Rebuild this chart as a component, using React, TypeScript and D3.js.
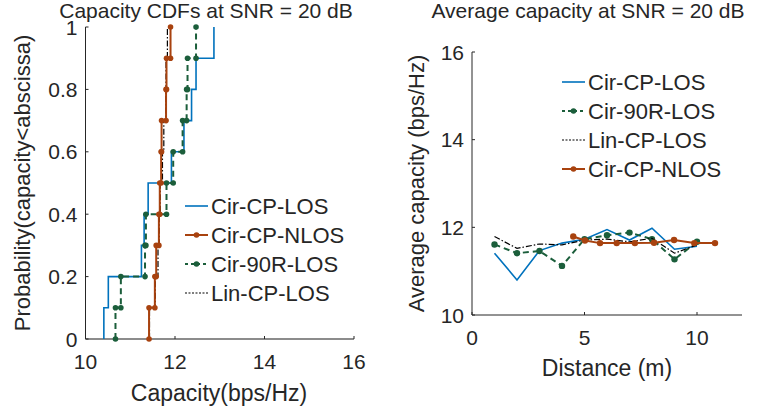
import React from "react";
import * as d3 from "d3";

// ---------- Data ----------
// Left: CDF sample values (capacity, bps/Hz), sorted
const cdfCirCPLOS = [10.41, 10.51, 11.25, 11.31, 11.4, 11.92, 12.2, 12.37, 12.47, 12.87];
const cdfCirCPNLOS = [11.42, 11.55, 11.58, 11.64, 11.66, 11.69, 11.7, 11.8, 11.81, 11.9];
const cdfCir90RLOS = [10.67, 10.79, 11.33, 11.35, 11.81, 11.96, 12.17, 12.26, 12.28, 12.47];
const cdfLinCPLOS = [11.43, 11.56, 11.62, 11.65, 11.67, 11.72, 11.75, 11.79, 11.8, 11.83];

// Right: average capacity vs distance
const distances = [1, 2, 3, 4, 5, 6, 7, 8, 9, 10];
const avgCirCPLOS = [11.41, 10.8, 11.47, 11.64, 11.73, 11.95, 11.71, 11.98, 11.5, 11.57];
const avgCir90RLOS = [11.61, 11.41, 11.46, 11.12, 11.73, 11.82, 11.88, 11.73, 11.27, 11.67];
const avgLinCPLOS = [11.79, 11.52, 11.62, 11.6, 11.71, 11.73, 11.67, 11.75, 11.41, 11.6];
const nlosDistances = [4.5, 5.02, 5.69, 6.43, 7.24, 8.09, 8.98, 9.88, 10.8];
const avgCirCPNLOS = [11.79, 11.7, 11.64, 11.64, 11.64, 11.65, 11.71, 11.64, 11.64];

const leftXTicks = [10, 12, 14, 16];
const leftYTicks = [0, 0.2, 0.4, 0.6, 0.8, 1];
const rightXTicks = [0, 5, 10];
const rightYTicks = [10, 12, 14, 16];

const BLUE = "#0072BD";
const ORANGE = "#A8420F";
const GREEN = "#1B5E3B";
const BLACK = "#000000";
const TXT = "#262626";
const FONT = "'Liberation Sans', Arial, Helvetica, sans-serif";

type Style = { color: string; width: number; dash?: string; marker: boolean };
const S_BLUE: Style = { color: BLUE, width: 1.6, marker: false };
const S_ORANGE: Style = { color: ORANGE, width: 2, marker: true };
const S_GREEN: Style = { color: GREEN, width: 2, dash: "6,4", marker: true };
const S_BLACK: Style = { color: BLACK, width: 1.2, dash: "6,2,1.5,2", marker: false };

function stairVerts(vals: number[]): [number, number][] {
  const n = vals.length;
  const pts: [number, number][] = [];
  vals.forEach((v, i) => {
    pts.push([v, i / n]);
    pts.push([v, (i + 1) / n]);
  });
  return pts;
}

export default function App() {
  // Left axes
  const L = { x0: 85.5, x1: 354, y0: 339, y1: 27 };
  const lx = d3.scaleLinear().domain([10, 16]).range([L.x0, L.x1]);
  const ly = d3.scaleLinear().domain([0, 1]).range([L.y0, L.y1]);
  // Right axes
  const R = { x0: 472, x1: 742, y0: 315, y1: 52 };
  const rx = d3.scaleLinear().domain([0, 12]).range([R.x0, R.x1]);
  const ry = d3.scaleLinear().domain([10, 16]).range([R.y0, R.y1]);

  const lline = d3.line<[number, number]>().x((d) => lx(d[0])).y((d) => ly(d[1]));
  const rline = d3.line<[number, number]>().x((d) => rx(d[0])).y((d) => ry(d[1]));

  const cdfSeries: { vals: number[]; s: Style }[] = [
    { vals: cdfCirCPLOS, s: S_BLUE },
    { vals: cdfCir90RLOS, s: S_GREEN },
    { vals: cdfLinCPLOS, s: S_BLACK },
    { vals: cdfCirCPNLOS, s: S_ORANGE },
  ];

  const avgSeries: { xs: number[]; ys: number[]; s: Style }[] = [
    { xs: distances, ys: avgCirCPLOS, s: S_BLUE },
    { xs: distances, ys: avgCir90RLOS, s: S_GREEN },
    { xs: distances, ys: avgLinCPLOS, s: S_BLACK },
    { xs: nlosDistances, ys: avgCirCPNLOS, s: S_ORANGE },
  ];

  const leftLegend: [string, Style][] = [
    ["Cir-CP-LOS", S_BLUE],
    ["Cir-CP-NLOS", S_ORANGE],
    ["Cir-90R-LOS", S_GREEN],
    ["Lin-CP-LOS", S_BLACK],
  ];
  const rightLegend: [string, Style][] = [
    ["Cir-CP-LOS", S_BLUE],
    ["Cir-90R-LOS", S_GREEN],
    ["Lin-CP-LOS", S_BLACK],
    ["Cir-CP-NLOS", S_ORANGE],
  ];

  const legend = (items: [string, Style][], x: number, y: number, dy: number) =>
    items.map(([name, s], i) => {
      const yy = y + i * dy;
      return (
        <g key={name}>
          <line x1={x} x2={x + 23} y1={yy} y2={yy} stroke={s.color} strokeWidth={s.width}
            strokeDasharray={s.dash ? (s.marker ? "3,3" : "2,1.5") : undefined} />
          {s.marker && <circle cx={x + 11.5} cy={yy} r={2.8} fill={s.color} />}
          <text x={x + 26} y={yy + 8} fontSize={22} fill={TXT}>{name}</text>
        </g>
      );
    });

  return (
    <svg width={776} height={413} style={{ position: "absolute", left: 0, top: 0, background: "#fff" }}
      fontFamily={FONT}>
      <rect width={776} height={413} fill="#fff" />
      {/* ---------- Left plot ---------- */}
      <text x={206} y={18} fontSize={21} textAnchor="middle" fill={TXT}>Capacity CDFs at SNR = 20 dB</text>
      <line x1={L.x0} x2={L.x0} y1={L.y0} y2={L.y1} stroke={TXT} strokeWidth={1} />
      <line x1={L.x0} x2={L.x1} y1={L.y0} y2={L.y0} stroke="#8c8c8c" strokeWidth={2} />
      {leftYTicks.map((t) => (
        <g key={"ly" + t}>
          <line x1={L.x0} x2={L.x0 + 3} y1={ly(t)} y2={ly(t)} stroke={TXT} />
          <text x={L.x0 - 8} y={ly(t) + 7.5} fontSize={21} textAnchor="end" fill={TXT}>{String(t)}</text>
        </g>
      ))}
      {leftXTicks.map((t) => (
        <g key={"lx" + t}>
          <line x1={lx(t)} x2={lx(t)} y1={L.y0} y2={L.y0 - 3} stroke={TXT} />
          <text x={lx(t)} y={L.y0 + 30} fontSize={21} textAnchor="middle" fill={TXT}>{String(t)}</text>
        </g>
      ))}
      <text x={219} y={401} fontSize={23} textAnchor="middle" fill={TXT}>Capacity(bps/Hz)</text>
      <text transform={`translate(30,${(L.y0 + L.y1) / 2}) rotate(-90)`} fontSize={22} textAnchor="middle" fill={TXT}>
        Probability(capacity&lt;abscissa)
      </text>
      {cdfSeries.map(({ vals, s }, k) => {
        const pts = stairVerts(vals);
        return (
          <g key={"cdf" + k}>
            <path d={lline(pts) || ""} fill="none" stroke={s.color} strokeWidth={s.width} strokeDasharray={s.dash} />
            {s.marker && pts.map((p, i) => <circle key={i} cx={lx(p[0])} cy={ly(p[1])} r={2.8} fill={s.color} />)}
          </g>
        );
      })}
      {legend(leftLegend, 185, 206, 29)}

      {/* ---------- Right plot ---------- */}
      <text x={588} y={18} fontSize={21} textAnchor="middle" fill={TXT}>Average capacity at SNR = 20 dB</text>
      <line x1={R.x0} x2={R.x0} y1={R.y0} y2={R.y1} stroke={TXT} strokeWidth={1} />
      <line x1={R.x0} x2={R.x1} y1={R.y0} y2={R.y0} stroke={TXT} strokeWidth={1} />
      {rightYTicks.map((t) => (
        <g key={"ry" + t}>
          <line x1={R.x0} x2={R.x0 + 3} y1={ry(t)} y2={ry(t)} stroke={TXT} />
          <text x={R.x0 - 8} y={ry(t) + 7.5} fontSize={21} textAnchor="end" fill={TXT}>{String(t)}</text>
        </g>
      ))}
      {rightXTicks.map((t) => (
        <g key={"rx" + t}>
          <line x1={rx(t)} x2={rx(t)} y1={R.y0} y2={R.y0 - 3} stroke={TXT} />
          <text x={rx(t)} y={R.y0 + 30} fontSize={21} textAnchor="middle" fill={TXT}>{String(t)}</text>
        </g>
      ))}
      <text x={607} y={376} fontSize={23} textAnchor="middle" fill={TXT}>Distance (m)</text>
      <text transform={`translate(424,${(R.y0 + R.y1) / 2}) rotate(-90)`} fontSize={22} textAnchor="middle" fill={TXT}>
        Average capacity (bps/Hz)
      </text>
      {avgSeries.map(({ xs, ys, s }, k) => {
        const pts: [number, number][] = xs.map((x, i) => [x, ys[i]]);
        return (
          <g key={"avg" + k}>
            <path d={rline(pts) || ""} fill="none" stroke={s.color} strokeWidth={s.width} strokeDasharray={s.dash} />
            {s.marker && pts.map((p, i) => <circle key={i} cx={rx(p[0])} cy={ry(p[1])} r={3.2} fill={s.color} />)}
          </g>
        );
      })}
      {legend(rightLegend, 562, 82, 29)}
    </svg>
  );
}
